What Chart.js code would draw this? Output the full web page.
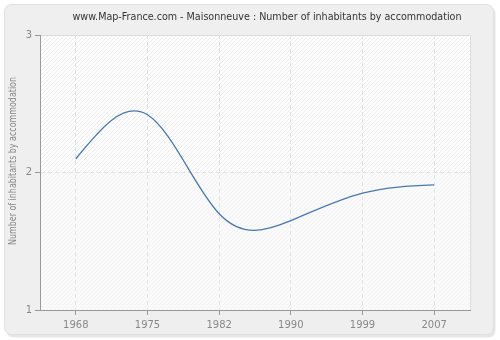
<!DOCTYPE html>
<html>
<head>
<meta charset="utf-8">
<script src="https://cdn.jsdelivr.net/npm/chart.js@4"></script>
<style>
  html, body { margin: 0; padding: 0; background: #ffffff; }
  #wrap { width: 500px; height: 340px; }
</style>
</head>
<body>
<div id="wrap"><canvas id="chart" width="500" height="340"></canvas></div>
<script>
const titleText = "www.Map-France.com - Maisonneuve : Number of inhabitants by accommodation";
const yTitle = "Number of inhabitants by accommodation";
const years = ["1968", "1975", "1982", "1990", "1999", "2007"];
const inhabitants = [2.1, 2.42, 1.70, 1.65, 1.85, 1.91];
const yTicks = [1, 2, 3];

const FONT = "'DejaVu Sans', Verdana, sans-serif";

function hatch(ctx, bg, fg) {
  const c = document.createElement('canvas');
  c.width = 4; c.height = 4;
  const g = c.getContext('2d');
  g.fillStyle = bg; g.fillRect(0, 0, 4, 4);
  g.fillStyle = fg;
  for (let i = 0; i < 4; i++) g.fillRect(i, 3 - i, 1, 1);
  return ctx.createPattern(c, 'repeat');
}

// text squeezed to a given width (the original font is narrower)
function fitText(ctx, text, x, y, width) {
  const w = ctx.measureText(text).width;
  ctx.save();
  ctx.translate(x, y);
  ctx.scale(Math.min(1, width / w), 1);
  ctx.fillText(text, 0, 0);
  ctx.restore();
}

// natural cubic spline through the points the library placed
const naturalSpline = {
  id: 'naturalSpline',
  beforeDatasetsDraw(chart) {
    const meta = chart.getDatasetMeta(0);
    const p = meta.data;
    const n = p.length;
    if (n < 3) return;
    const h = [], M = new Array(n).fill(0);
    for (let i = 0; i < n - 1; i++) h.push(p[i + 1].x - p[i].x);
    const a = [], b = [], c = [], d = [];
    for (let i = 1; i < n - 1; i++) {
      a.push(h[i - 1]); b.push(2 * (h[i - 1] + h[i])); c.push(h[i]);
      d.push(6 * ((p[i + 1].y - p[i].y) / h[i] - (p[i].y - p[i - 1].y) / h[i - 1]));
    }
    const m = b.length;
    for (let i = 1; i < m; i++) {
      const w = a[i] / b[i - 1];
      b[i] -= w * c[i - 1];
      d[i] -= w * d[i - 1];
    }
    const sol = new Array(m);
    sol[m - 1] = d[m - 1] / b[m - 1];
    for (let i = m - 2; i >= 0; i--) sol[i] = (d[i] - c[i] * sol[i + 1]) / b[i];
    for (let i = 0; i < m; i++) M[i + 1] = sol[i];
    for (let i = 0; i < n - 1; i++) {
      const hi = h[i], dy = (p[i + 1].y - p[i].y) / hi;
      const s0 = dy - hi * (2 * M[i] + M[i + 1]) / 6;
      const s1 = dy + hi * (M[i] + 2 * M[i + 1]) / 6;
      p[i].cp2x = p[i].x + hi / 3; p[i].cp2y = p[i].y + s0 * hi / 3;
      p[i + 1].cp1x = p[i + 1].x - hi / 3; p[i + 1].cp1y = p[i + 1].y - s1 * hi / 3;
    }
    p[0].cp1x = p[0].x; p[0].cp1y = p[0].y;
    p[n - 1].cp2x = p[n - 1].x; p[n - 1].cp2y = p[n - 1].y;
    meta.dataset._pointsUpdated = true;
  }
};

const decor = {
  id: 'decor',
  beforeDraw(chart) {
    const ctx = chart.ctx;
    const a = chart.chartArea;
    const y = chart.scales.y;
    ctx.save();
    // panel
    ctx.fillStyle = '#e6e6e6';
    ctx.beginPath(); ctx.roundRect(6.5, 6.5, 489, 331, 7); ctx.fill();
    ctx.fillStyle = '#efefef';
    ctx.strokeStyle = '#e0e0e0';
    ctx.lineWidth = 1;
    ctx.beginPath(); ctx.roundRect(4.5, 4.5, 489, 330, 7); ctx.fill(); ctx.stroke();
    // plot background bands
    const y2 = y.getPixelForValue(2);
    ctx.fillStyle = hatch(ctx, '#ffffff', '#ececec');
    ctx.fillRect(a.left, a.top, a.right - a.left, y2 - a.top);
    ctx.fillStyle = hatch(ctx, '#fafafa', '#f3f3f3');
    ctx.fillRect(a.left, y2, a.right - a.left, a.bottom - y2);
    ctx.strokeStyle = '#dcdcdc';
    ctx.beginPath();
    ctx.moveTo(a.left, a.top + 0.5); ctx.lineTo(a.right + 0.5, a.top + 0.5);
    ctx.lineTo(a.right + 0.5, a.bottom);
    ctx.stroke();
    // titles
    ctx.textAlign = 'center';
    ctx.textBaseline = 'middle';
    ctx.fillStyle = '#333333';
    ctx.font = '10px ' + FONT;
    fitText(ctx, titleText, 267, 17, 389);
    ctx.fillStyle = '#888888';
    ctx.font = '10px ' + FONT;
    ctx.translate(13, 161);
    ctx.rotate(-Math.PI / 2);
    fitText(ctx, yTitle, 0, 0, 168);
    ctx.restore();
  }
};

new Chart(document.getElementById('chart'), {
  type: 'line',
  data: {
    labels: years,
    datasets: [{
      data: inhabitants,
      borderColor: '#4a78ad',
      borderWidth: 1.3,
      pointRadius: 0,
      fill: false,
      tension: 0.4
    }]
  },
  options: {
    responsive: false,
    animation: false,
    layout: { padding: { left: 0, top: 35, right: 30, bottom: 0 } },
    plugins: {
      legend: { display: false },
      title: { display: false },
      tooltip: { enabled: false }
    },
    scales: {
      x: {
        type: 'category',
        offset: true,
        afterFit: s => { s.height = 30; },
        grid: {
          offset: false,
          color: '#e2e2e2',
          tickColor: '#999999',
          tickLength: 5,
          tickBorderDash: []
        },
        border: { color: '#999999', width: 1, dash: [4, 3] },
        ticks: { color: '#888888', font: { family: FONT, size: 10 }, padding: 4, maxRotation: 0 }
      },
      y: {
        min: 1,
        max: 3,
        afterFit: s => { s.width = 40; },
        afterBuildTicks: s => { s.ticks = yTicks.map(v => ({ value: v })); },
        grid: {
          color: ctx => ctx.tick && ctx.tick.value === 2 ? '#e2e2e2' : 'rgba(0,0,0,0)',
          tickColor: '#999999',
          tickLength: 5,
          tickBorderDash: []
        },
        border: { color: '#999999', width: 1, dash: [4, 3] },
        ticks: { color: '#888888', font: { family: FONT, size: 10 }, padding: 3 }
      }
    }
  },
  plugins: [decor, naturalSpline]
});
</script>
</body>
</html>
